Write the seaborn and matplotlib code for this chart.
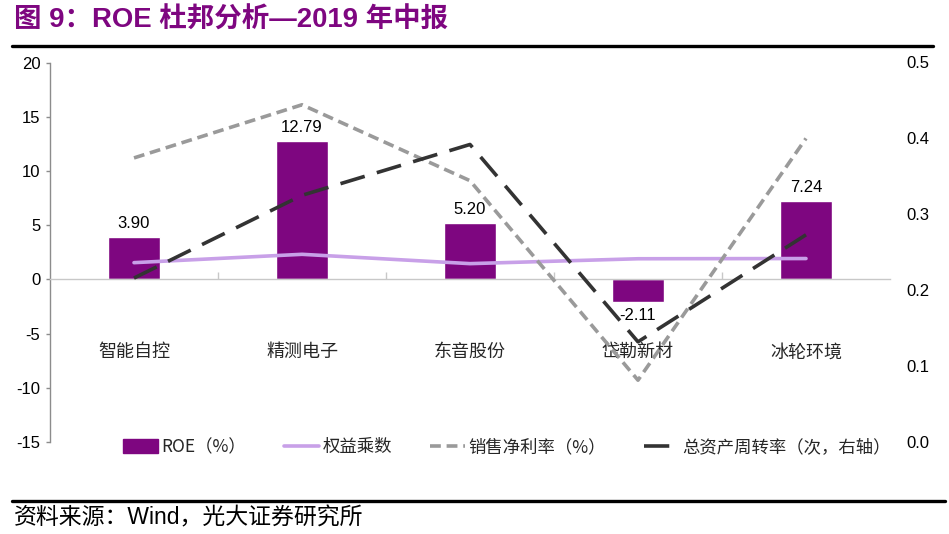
import numpy as np
import pandas as pd
import matplotlib
matplotlib.use("Agg")
import matplotlib.pyplot as plt
from matplotlib.lines import Line2D
from matplotlib.patches import Patch
import seaborn as sns

# ---- data ----
categories = ["智能自控", "精测电子", "东音股份", "岱勒新材", "冰轮环境"]
roe = [3.90, 12.79, 5.20, -2.11, 7.24]                 # ROE (%), left axis
equity_multiplier = [1.54, 2.31, 1.45, 1.90, 1.92]      # 权益乘数, left axis
net_margin = [11.2, 16.1, 9.1, -9.3, 13.0]              # 销售净利率 (%), left axis
asset_turnover = [0.216, 0.325, 0.392, 0.132, 0.273]    # 总资产周转率 (次), right axis
left_ticks = [-15, -10, -5, 0, 5, 10, 15, 20]
right_ticks = [0.0, 0.1, 0.2, 0.3, 0.4, 0.5]

legend_labels = ["ROE（%）", "权益乘数", "销售净利率（%）", "总资产周转率（次，右轴）"]
title_text = "图 9：ROE 杜邦分析—2019 年中报"
source_text = "资料来源：Wind，光大证券研究所"

df = pd.DataFrame({"company": categories, "roe": roe, "em": equity_multiplier,
                   "npm": net_margin, "tat": asset_turnover})

# ---- style ----
sns.set_theme(style="white")
plt.rcParams["font.family"] = ["Liberation Sans", "Noto Sans CJK SC", "DejaVu Sans"]
CJK = ["Noto Sans CJK SC", "DejaVu Sans"]

PURPLE = "#7E0680"
LIGHT_PURPLE = "#C8A0E8"
GRAY = "#9A9A9A"
DARK = "#333333"

W, H = 949, 534
fig = plt.figure(figsize=(W / 100, H / 100), dpi=100)
ax = fig.add_axes([50 / W, 1 - 442 / H, 840 / W, 379.5 / H])

sns.barplot(data=df, x="company", y="roe", color=PURPLE, saturation=1,
            width=0.315, ax=ax, zorder=2)
sns.lineplot(data=df, x="company", y="em", color=LIGHT_PURPLE, lw=2.6,
             sort=False, ax=ax, zorder=3)
sns.lineplot(data=df, x="company", y="npm", color=GRAY, lw=2.6, sort=False,
             ax=ax, zorder=3, dashes=False)
ax.lines[-1].set_dashes([3, 1.6])

ax.set_xlim(-0.5, len(categories) - 0.5)
ax.set_ylim(-15, 20)
ax.set_yticks(left_ticks)
ax.set_yticklabels([str(t) for t in left_ticks], fontsize=12)
ax.set_xlabel("")
ax.set_ylabel("")

# spines
for s in ["top", "right"]:
    ax.spines[s].set_visible(False)
ax.spines["left"].set_color("#8C8C8C")
ax.spines["left"].set_linewidth(1.0)
ax.spines["bottom"].set_position(("data", 0))
ax.spines["bottom"].set_color("#C8C8C8")
ax.spines["bottom"].set_linewidth(1.0)
ax.tick_params(axis="y", direction="out", length=3, width=1, color="#8C8C8C",
               pad=4, left=True, labelcolor="#000000")
ax.set_xticks(np.arange(len(categories) - 1) + 0.5, minor=True)
ax.tick_params(axis="x", which="minor", direction="in", length=5, width=1,
               color="#C8C8C8", bottom=True)

# bar value labels
for i, v in enumerate(roe):
    off = 6 if v >= 0 else -6
    ax.annotate(f"{v:.2f}", (i, v), xytext=(0, off), textcoords="offset pixels",
                ha="center", va="bottom" if v >= 0 else "top", fontsize=12,
                color="#000000", zorder=5)

# right axis
ax2 = ax.twinx()
sns.lineplot(data=df, x="company", y="tat", color=DARK, lw=2.6, sort=False,
             ax=ax2, zorder=3, dashes=False)
ax2.lines[-1].set_dashes([7, 3.5])
ax2.set_ylim(0, 0.5)
ax2.set_yticks(right_ticks)
ax2.set_yticklabels([f"{t:.1f}" for t in right_ticks], fontsize=12)
ax2.set_ylabel("")
ax2.set_xlabel("")
for s in ax2.spines.values():
    s.set_visible(False)
ax2.tick_params(axis="y", length=0, pad=12, labelcolor="#000000")
ax2.set_xlim(-0.5, len(categories) - 0.5)
ax.set_xticks(np.arange(len(categories)))
ax.set_xticklabels(categories, fontsize=13, family=CJK)
ax.tick_params(axis="x", which="major", length=0, pad=46)

# legend
handles = [
    Patch(facecolor=PURPLE, edgecolor=PURPLE),
    Line2D([], [], color=LIGHT_PURPLE, lw=2.6),
    Line2D([], [], color=GRAY, lw=2.6, dashes=[3, 1.6]),
    Line2D([], [], color=DARK, lw=2.6, dashes=[7, 3.5]),
]
leg = fig.legend(handles, legend_labels, loc="center", ncol=4,
                 bbox_to_anchor=(507 / W, 1 - 447 / H), frameon=False,
                 prop={"family": CJK, "size": 12.5}, handlelength=2.0,
                 handleheight=0.8, handletextpad=0.2, columnspacing=2.2)

# title, rules, source
fig.text(14 / W, 1 - 21 / H, title_text, fontsize=19.8, fontweight="bold",
         color=PURPLE, ha="left", va="center",
         family=["Liberation Sans", "Noto Sans CJK SC"])
fig.add_artist(Line2D([12 / W, 933 / W], [1 - 46 / H, 1 - 46 / H],
                      color="black", lw=2.4, transform=fig.transFigure))
fig.add_artist(Line2D([12 / W, 945 / W], [1 - 501 / H, 1 - 501 / H],
                      color="black", lw=2.4, transform=fig.transFigure))
fig.text(14 / W, 1 - 518 / H, source_text, fontsize=16.5, color="#000000",
         ha="left", va="center", family=["Liberation Sans", "Noto Sans CJK SC"])

fig.savefig("out.png", dpi=100)
